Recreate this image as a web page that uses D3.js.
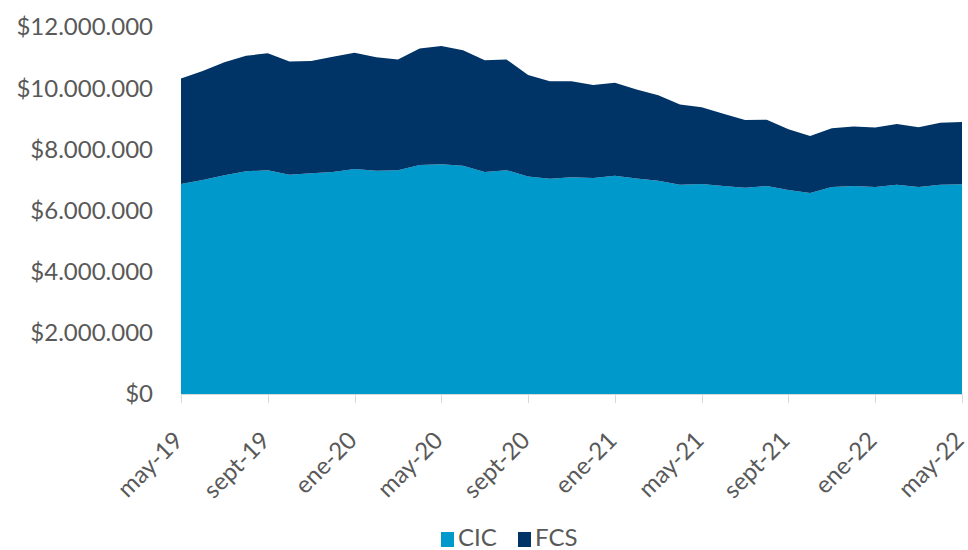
<!DOCTYPE html>
<html><head><meta charset="utf-8">
<script src="https://cdn.jsdelivr.net/npm/d3@7"></script>
<style>body{margin:0;background:#fff}svg{display:block}text{font-family:Lato,"Open Sans",sans-serif;fill:#595959}</style>
</head><body><svg id="c" width="968" height="550"></svg>
<script>
const months = ["may-19","jun-19","jul-19","ago-19","sept-19","oct-19","nov-19","dic-19","ene-20","feb-20","mar-20","abr-20","may-20","jun-20","jul-20","ago-20","sept-20","oct-20","nov-20","dic-20","ene-21","feb-21","mar-21","abr-21","may-21","jun-21","jul-21","ago-21","sept-21","oct-21","nov-21","dic-21","ene-22","feb-22","mar-22","abr-22","may-22"];
const cic = [6.87,7.00,7.15,7.28,7.32,7.17,7.22,7.26,7.36,7.30,7.32,7.49,7.51,7.46,7.26,7.32,7.11,7.04,7.09,7.06,7.14,7.05,6.97,6.84,6.87,6.80,6.74,6.80,6.67,6.57,6.77,6.80,6.77,6.84,6.77,6.84,6.86];
const total = [10.32,10.56,10.85,11.06,11.14,10.87,10.89,11.03,11.16,11.01,10.94,11.30,11.38,11.24,10.91,10.94,10.43,10.23,10.23,10.10,10.18,9.96,9.77,9.47,9.38,9.16,8.96,8.97,8.66,8.44,8.69,8.75,8.71,8.83,8.72,8.87,8.89];
const fcs = total.map((t,i)=>+(t-cic[i]).toFixed(2));
const seriesNames = ["CIC","FCS"];
const colors = ["#0099CC","#003366"];
const yTicks = [0,2,4,6,8,10,12];
const xTickLabels = ["may-19","sept-19","ene-20","may-20","sept-20","ene-21","may-21","sept-21","ene-22","may-22"];

(function(){
const svg = d3.select("#c");
const L=181, R=962, T=27, B=394;
const FS = "24px";
const x = d3.scalePoint().domain(months).range([L,R]);
const y = d3.scaleLinear().domain([0,12]).range([B,T]);

const rows = months.map((m,i)=>({m, CIC:cic[i], FCS:fcs[i]}));
const stack = d3.stack().keys(seriesNames)(rows);
const area = d3.area().x(d=>x(d.data.m)).y0(d=>y(d[0])).y1(d=>y(d[1]));
svg.selectAll("path.a").data(stack).join("path").attr("class","a")
  .attr("d",area).attr("fill",(d,i)=>colors[i]);

const fmt = v => "$" + d3.format(",")(Math.round(v*1e6)).replace(/,/g,".");
svg.append("line").attr("x1",L).attr("x2",R).attr("y1",B+0.5).attr("y2",B+0.5).attr("stroke","#d9d9d9");
const xg = svg.append("g");
xTickLabels.forEach(l=>{
  const px = Math.round(x(l))+0.5;
  xg.append("line").attr("x1",px).attr("x2",px).attr("y1",B).attr("y2",B+9).attr("stroke","#d9d9d9");
  xg.append("text").attr("transform",`translate(${px-9},${B+36}) rotate(-45)`)
    .attr("text-anchor","end").attr("dy","0.7em").style("font-size",FS).text(l);
});
svg.append("g").selectAll("text").data(yTicks).join("text")
  .attr("x",153).attr("y",d=>y(d)).attr("dy","0.35em").attr("text-anchor","end")
  .style("font-size",FS).text(d=>fmt(d));

const lg = svg.append("g");
[{n:"CIC",x:441},{n:"FCS",x:518}].forEach((it,i)=>{
  lg.append("rect").attr("x",it.x).attr("y",532).attr("width",13).attr("height",15).attr("fill",colors[i]);
  lg.append("text").attr("x",it.x+17).attr("y",546).style("font-size",FS).text(it.n);
});
})();
</script></body></html>
